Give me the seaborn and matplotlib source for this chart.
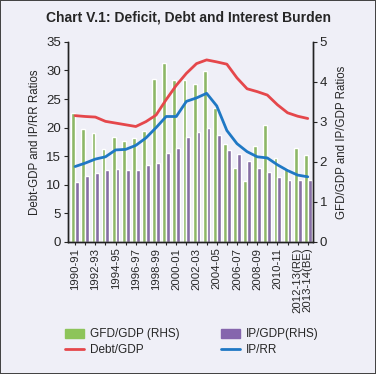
import matplotlib
matplotlib.use("Agg")
import matplotlib.pyplot as plt
import seaborn as sns
import pandas as pd
from matplotlib.patches import Patch
from matplotlib.lines import Line2D

# datos
years = ["1990-91", "1991-92", "1992-93", "1993-94", "1994-95", "1995-96",
         "1996-97", "1997-98", "1998-99", "1999-00", "2000-01", "2001-02",
         "2002-03", "2003-04", "2004-05", "2005-06", "2006-07", "2007-08",
         "2008-09", "2009-10", "2010-11", "2011-12", "2012-13(RE)", "2013-14(BE)"]
gfd_gdp = [3.23, 2.83, 2.73, 2.32, 2.63, 2.53, 2.61, 2.78, 4.08, 4.48, 4.05, 4.04,
           3.96, 4.27, 3.34, 2.45, 1.84, 1.52, 2.40, 2.93, 2.11, 1.86, 2.34, 2.18]
ip_gdp = [1.50, 1.66, 1.72, 1.80, 1.83, 1.80, 1.80, 1.93, 1.97, 2.23, 2.35, 2.63,
          2.75, 2.85, 2.68, 2.30, 2.20, 2.03, 1.85, 1.76, 1.63, 1.55, 1.55, 1.55]
debt_gdp = [22.1, 21.95, 21.85, 21.1, 20.8, 20.5, 20.2, 21.05, 22.2, 24.9, 27.4, 29.5,
            31.2, 31.85, 31.5, 31.1, 28.7, 26.8, 26.3, 25.7, 24.0, 22.6, 22.0, 21.6]
ip_rr = [13.2, 13.8, 14.5, 14.9, 16.1, 16.2, 16.9, 18.2, 20.0, 21.95, 21.95, 24.6,
         25.2, 26.0, 23.8, 19.5, 17.2, 15.8, 14.9, 14.7, 13.5, 12.5, 11.7, 11.4]

bars = pd.DataFrame({
    "Year": years * 2,
    "Value": gfd_gdp + ip_gdp,
    "Serie": ["GFD/GDP (RHS)"] * len(years) + ["IP/GDP(RHS)"] * len(years),
})
lines = pd.DataFrame({"x": range(len(years)), "Debt/GDP": debt_gdp, "IP/RR": ip_rr})

sns.set_style("ticks")
plt.rcParams["font.family"] = ["Liberation Sans", "DejaVu Sans"]

bg = "#efeff7"
fig = plt.figure(figsize=(3.76, 3.74), dpi=100, facecolor=bg, edgecolor="#444444", linewidth=1.2)
ax = fig.add_axes([0.181, 0.353, 0.651, 0.535])
ax.set_facecolor(bg)

# barras en el eje de la derecha (ax primario), lineas arriba en el twin
sns.barplot(data=bars, x="Year", y="Value", hue="Serie", order=years,
            palette=["#8dc45a", "#8565ad"], width=0.76, ax=ax, legend=False)
ax.set_xlabel("")

ax2 = ax.twinx()
sns.lineplot(data=lines, x="x", y="Debt/GDP", color="#e5474b", linewidth=2, ax=ax2)
sns.lineplot(data=lines, x="x", y="IP/RR", color="#1f78c4", linewidth=2, ax=ax2)

# mover ejes: barras a la derecha, lineas a la izquierda
ax.yaxis.tick_right()
ax.yaxis.set_label_position("right")
ax2.yaxis.tick_left()
ax2.yaxis.set_label_position("left")

ax.set_ylim(0, 5)
ax.set_yticks(range(0, 6))
ax.set_ylabel("GFD/GDP and IP/GDP Ratios", fontsize=8.3, labelpad=6)
ax2.set_ylim(0, 35)
ax2.set_yticks(range(0, 36, 5))
ax2.set_ylabel("Debt-GDP and IP/RR Ratios", fontsize=8.3, labelpad=4)
ax2.set_xlim(-0.7, 23.5)

ticklabels = [y if (i % 2 == 0 or i == len(years) - 1) else "" for i, y in enumerate(years)]
ax.set_xticks(range(len(years)))
ax.set_xticklabels(ticklabels, rotation=90, fontsize=8.2)
ax.tick_params(axis="x", length=2, pad=2)
ax.tick_params(axis="y", labelsize=9.5, length=3, pad=2)
ax2.tick_params(axis="y", labelsize=9.5, length=3, pad=2)

for a in (ax, ax2):
    a.spines["top"].set_visible(False)
    for s in ("left", "right", "bottom"):
        a.spines[s].set_visible(True)
        a.spines[s].set_color("#222222")
        a.spines[s].set_linewidth(1)

fig.suptitle("Chart V.1: Deficit, Debt and Interest Burden", fontsize=10,
             fontweight="bold", x=0.5, y=0.972)

handles = [Patch(color="#8dc45a"), Patch(color="#8565ad"),
           Line2D([], [], color="#e5474b", lw=2), Line2D([], [], color="#1f78c4", lw=2)]
labels = ["GFD/GDP (RHS)", "IP/GDP(RHS)", "Debt/GDP", "IP/RR"]
# orden por filas con ncol=2
order = [0, 2, 1, 3]
fig.legend([handles[i] for i in order], [labels[i] for i in order], ncol=2,
           loc="center", bbox_to_anchor=(0.51, 0.085), frameon=False, fontsize=8.5,
           handlelength=1.6, handleheight=0.8, columnspacing=3.5, labelspacing=0.35,
           handletextpad=0.5)

plt.savefig("out.png", dpi=100, facecolor=bg)
